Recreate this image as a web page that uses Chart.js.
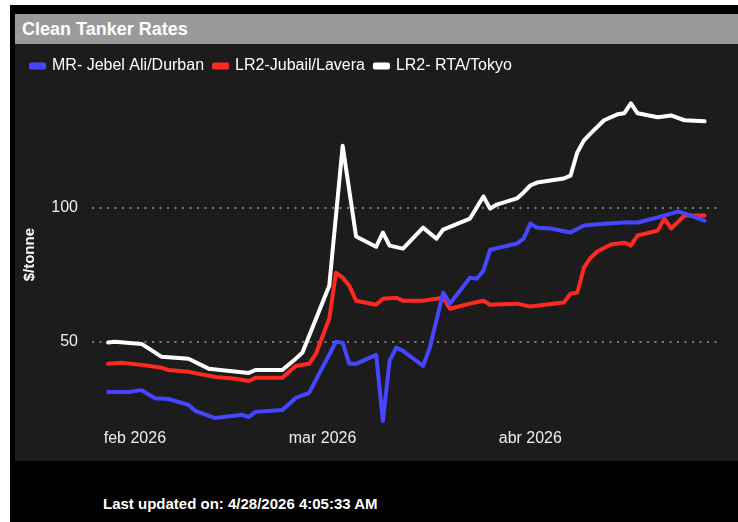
<!DOCTYPE html>
<html>
<head>
<meta charset="utf-8">
<script src="https://cdn.jsdelivr.net/npm/chart.js@4.4.1/dist/chart.umd.min.js"></script>
<style>
  body { margin: 0; background: #fff; font-family: "Liberation Sans", Arial, sans-serif; }
  #frame { position: absolute; left: 10px; top: 5px; width: 728px; height: 517px; background: #000; }
  #titlebar { position: absolute; left: 15px; top: 14px; width: 723px; height: 30px; background: #9a9a9a;
    color: #fff; font-weight: bold; font-size: 18px; line-height: 30px; padding-left: 7px; box-sizing: border-box; }
  #panel { position: absolute; left: 15px; top: 44px; width: 723px; height: 417px; background: #1c1c1c; }
  #wrap { position: absolute; left: 12px; top: 44px; width: 726px; height: 417px; }
  #footer { position: absolute; left: 103px; top: 495px; color: #fff; font-weight: bold; font-size: 15px; }
</style>
</head>
<body>
<div id="frame"></div>
<div id="titlebar">Clean Tanker Rates</div>
<div id="panel"></div>
<div id="wrap"><canvas id="mycanvas"></canvas></div>
<div id="footer">Last updated on: 4/28/2026 4:05:33 AM</div>
<script>
// MR- Jebel Ali/Durban
var mrDates = ['2026-01-28','2026-01-31','2026-02-02','2026-02-04','2026-02-06','2026-02-09','2026-02-10','2026-02-13',
	'2026-02-17','2026-02-18','2026-02-19','2026-02-23','2026-02-25','2026-02-27','2026-03-03','2026-03-04','2026-03-05',
	'2026-03-06','2026-03-09','2026-03-10','2026-03-11','2026-03-12','2026-03-13','2026-03-16','2026-03-17','2026-03-19',
	'2026-03-20','2026-03-23','2026-03-24','2026-03-25','2026-03-26','2026-03-30','2026-03-31','2026-04-01','2026-04-02',
	'2026-04-04','2026-04-07','2026-04-09','2026-04-12','2026-04-15','2026-04-17','2026-04-20','2026-04-23','2026-04-24','2026-04-27'];
var mrRates = [31.3,31.3,32,29,28.7,26.5,24.3,21.6,
	22.8,22,23.9,24.6,29.1,31,50,49.6,41.8,
	41.8,45.1,20.5,42.9,47.8,46.6,41,47.8,68.3,
	64.2,73.9,73.5,76.5,84.3,86.6,88.4,94,92.5,
	92.2,90.7,93.3,94,94.4,94.4,96.3,98.5,97.8,95.1];

// LR2-Jubail/Lavera
var jubailDates = ['2026-01-28','2026-01-30','2026-02-02','2026-02-05','2026-02-06','2026-02-09','2026-02-13','2026-02-16',
	'2026-02-18','2026-02-19','2026-02-23','2026-02-25','2026-02-27','2026-02-28','2026-03-02','2026-03-03','2026-03-04',
	'2026-03-05','2026-03-06','2026-03-09','2026-03-10','2026-03-12','2026-03-13','2026-03-16','2026-03-19','2026-03-20',
	'2026-03-23','2026-03-25','2026-03-26','2026-03-30','2026-04-01','2026-04-06','2026-04-07','2026-04-08','2026-04-09',
	'2026-04-10','2026-04-11','2026-04-13','2026-04-15','2026-04-16','2026-04-17','2026-04-20','2026-04-21','2026-04-22',
	'2026-04-24','2026-04-27'];
var jubailRates = [41.8,42.2,41.4,40.3,39.5,38.8,36.9,36.2,
	35.4,36.6,36.6,41,41.8,45.5,58.6,75.7,73.9,
	70.9,65.3,63.8,66,66.4,65.3,65.3,66.4,62.3,
	64.2,65.3,63.8,64.2,63.1,64.6,67.9,68.3,77.6,
	81.3,83.6,86.2,86.9,85.8,89.6,91.4,95.9,92.2,
	97,97];

// LR2- RTA/Tokyo
var tokyoDates = ['2026-01-28','2026-01-29','2026-02-02','2026-02-05','2026-02-09','2026-02-12','2026-02-18','2026-02-19',
	'2026-02-23','2026-02-25','2026-02-26','2026-03-02','2026-03-04','2026-03-06','2026-03-09','2026-03-10','2026-03-11',
	'2026-03-13','2026-03-16','2026-03-18','2026-03-19','2026-03-23','2026-03-24','2026-03-25','2026-03-26','2026-03-27',
	'2026-03-30','2026-03-31','2026-04-01','2026-04-02','2026-04-06','2026-04-07','2026-04-08','2026-04-09','2026-04-10',
	'2026-04-12','2026-04-14','2026-04-15','2026-04-16','2026-04-17','2026-04-20','2026-04-22','2026-04-24','2026-04-27'];
var tokyoRates = [49.7,50,49.2,44.4,43.7,40,38.4,39.5,
	39.5,43.7,46,70.9,123,89.2,85.4,90.7,85.8,
	84.7,92.5,88.4,91.8,95.9,100,104.1,99.6,101.1,
	103.4,105.6,108.2,109.3,110.8,111.9,120.5,125,127.6,
	132.5,134.7,135.1,138.8,135.1,133.6,134.3,132.5,132.1];

var tickDates = ['2026-02-01','2026-03-01','2026-04-01'];
var tickLabels = ['feb 2026','mar 2026','abr 2026'];
var yTicks = [50, 100];

// days since 1 Jan 2026
function dayNum(s) {
	var p = s.split('-');
	return (Date.UTC(+p[0], +p[1] - 1, +p[2]) - Date.UTC(2026, 0, 1)) / 86400000;
}
function toPoints(dates, vals) {
	var pts = [];
	for (var i in dates) {
		pts.push({x: dayNum(dates[i]), y: vals[i]});
	}
	return pts;
}

var tickDays = tickDates.map(dayNum);
var fontName = '"Liberation Sans", Arial, sans-serif';

function series(label, pts, color) {
	return {
		label: label,
		data: pts,
		borderColor: color,
		backgroundColor: color,
		borderWidth: 4,
		borderJoinStyle: 'round',
		borderCapStyle: 'round',
		pointRadius: 0,
		tension: 0
	};
}

var chartdata = {
	datasets: [
		series('MR- Jebel Ali/Durban', toPoints(mrDates, mrRates), '#4646ff'),
		series('LR2-Jubail/Lavera', toPoints(jubailDates, jubailRates), '#ff2a1f'),
		series('LR2- RTA/Tokyo', toPoints(tokyoDates, tokyoRates), '#ffffff')
	]
};

var ctx = document.getElementById('mycanvas');

var lineGraph = new Chart(ctx, {
	type: 'line',
	data: chartdata,
	options: {
		responsive: true,
		maintainAspectRatio: false,
		animation: false,
		layout: { padding: { left: 9, right: 20, top: 4, bottom: 8.5 } },
		plugins: {
			tooltip: { enabled: false },
			legend: {
				position: 'top',
				align: 'start',
				labels: {
					color: '#ffffff',
					boxWidth: 13,
					boxHeight: 3,
					padding: 10,
					font: { family: fontName, size: 16 }
				}
			}
		},
		scales: {
			x: {
				type: 'linear',
				min: 24.6,
				max: 118,
				grid: { display: false, drawTicks: false },
				border: { display: false },
				afterBuildTicks: function(axis) {
					axis.ticks = tickDays.map(function(d) { return {value: d}; });
				},
				ticks: {
					color: '#eeeeee',
					padding: 4,
					maxRotation: 0,
					font: { family: fontName, size: 16 },
					callback: function(v) {
						var i = tickDays.indexOf(v);
						return i >= 0 ? tickLabels[i] : '';
					}
				}
			},
			y: {
				min: 18.9,
				max: 146,
				afterBuildTicks: function(axis) {
					axis.ticks = yTicks.map(function(v) { return {value: v}; });
				},
				afterFit: function(axis) { axis.width = 71; },
				grid: {
					color: 'rgba(150,150,150,0.8)',
					lineWidth: 2,
					drawTicks: false
				},
				border: { display: false, dash: [2, 5.5] },
				ticks: {
					color: '#eeeeee',
					padding: 14,
					font: { family: fontName, size: 16 }
				},
				title: {
					display: true,
					text: '$/tonne',
					color: '#ffffff',
					padding: { top: 0, bottom: 0 },
					font: { family: fontName, size: 15, weight: 'bold' }
				}
			}
		}
	}
});
</script>
</body>
</html>
